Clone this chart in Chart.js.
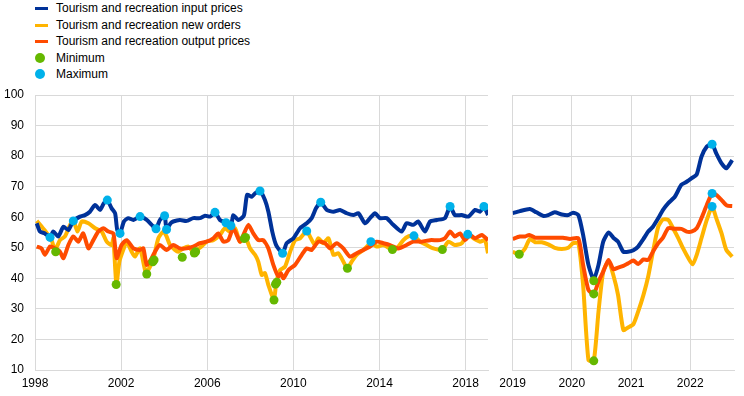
<!DOCTYPE html>
<html>
<head>
<meta charset="utf-8">
<script src="https://cdn.jsdelivr.net/npm/chart.js@4/dist/chart.umd.min.js"></script>
<style>
  body { margin: 0; background: #fff; }
  #wrap { position: relative; width: 744px; height: 396px; font-family: "Liberation Sans", Arial, sans-serif; }
  .box { position: absolute; top: 0; height: 396px; }
  #legend { position: absolute; left: 35px; top: 0; font-size: 12px; color: #000; }
  .item { position: relative; height: 16.5px; line-height: 16.5px; padding-left: 21px; white-space: nowrap; }
  .swatch { position: absolute; left: 0; top: 7px; width: 13px; height: 3px; }
  .dot { position: absolute; left: 0; top: 3px; width: 10px; height: 10px; border-radius: 50%; }
</style>
</head>
<body>
<div id="wrap">
  <div id="legend">
    <div class="item"><span class="swatch" style="background:#003299"></span>Tourism and recreation input prices</div>
    <div class="item"><span class="swatch" style="background:#ffb400"></span>Tourism and recreation new orders</div>
    <div class="item"><span class="swatch" style="background:#ff4b00"></span>Tourism and recreation output prices</div>
    <div class="item"><span class="dot" style="background:#65b800"></span>Minimum</div>
    <div class="item"><span class="dot" style="background:#00b1ea"></span>Maximum</div>
  </div>
  <div class="box" style="left:0;width:500px"><canvas id="leftChart"></canvas></div>
  <div class="box" style="left:490px;width:254px"><canvas id="rightChart"></canvas></div>
</div>
<script>
// tick labels
const leftTicks = [1998, 2002, 2006, 2010, 2014, 2018];
const rightTicks = [2019, 2020, 2021, 2022];

// 1998-2018 panel
const inputXA = [1998.08, 1998.23, 1998.46, 1998.70, 1998.85, 1999.08, 1999.32, 1999.55, 1999.78, 2000.09, 2000.32, 2000.55, 2000.79, 2001.02, 2001.2, 2001.36, 2001.56, 2001.72, 2001.82, 2001.95, 2002.13, 2002.33, 2002.57, 2002.88, 2003.19, 2003.42, 2003.62, 2003.80, 2004.02, 2004.11, 2004.3, 2004.42, 2004.73, 2005.04, 2005.35, 2005.66, 2005.9, 2006.13, 2006.36, 2006.59, 2006.87, 2007.1, 2007.21, 2007.44, 2007.7, 2007.85, 2008.07, 2008.22, 2008.45, 2008.68, 2008.84, 2009.02, 2009.2, 2009.5, 2009.69, 2010.0, 2010.31, 2010.62, 2010.85, 2011.05, 2011.27, 2011.55, 2011.86, 2012.17, 2012.48, 2012.79, 2013.02, 2013.33, 2013.56, 2013.79, 2014.02, 2014.33, 2014.64, 2015.03, 2015.26, 2015.57, 2015.8, 2016.11, 2016.35, 2016.66, 2017.04, 2017.28, 2017.5, 2017.82, 2018.13, 2018.44, 2018.67, 2018.85, 2019.04];
const inputA = [58.0, 55.3, 54.7, 53.4, 55.3, 53.7, 56.9, 55.8, 58.8, 60.2, 60.7, 61.8, 64.0, 62.4, 64.6, 65.6, 62.9, 61.3, 55.8, 54.7, 58.6, 59.7, 59.1, 60.2, 59.1, 57.5, 56.2, 59.1, 60.5, 56.0, 58.0, 58.6, 59.1, 58.8, 59.7, 59.7, 60.5, 60.2, 61.6, 59.1, 58.2, 57.2, 60.7, 59.1, 60.5, 67.3, 66.7, 67.8, 68.6, 65.6, 61.8, 55.3, 50.9, 48.2, 51.5, 53.1, 56.4, 58.0, 59.7, 62.9, 64.9, 62.4, 61.8, 62.4, 61.3, 60.7, 61.3, 58.0, 59.7, 61.3, 59.7, 59.7, 57.5, 55.3, 58.0, 57.5, 58.6, 55.3, 58.6, 59.1, 59.7, 63.5, 60.7, 60.7, 60.2, 62.4, 61.8, 63.5, 60.7];

const ordersXA = [1998.08, 1998.3, 1998.5, 1998.77, 1998.93, 1999.16, 1999.39, 1999.63, 1999.78, 1999.97, 2000.17, 2000.48, 2000.79, 2001.1, 2001.33, 2001.56, 2001.64, 2001.78, 2001.92, 2002.1, 2002.26, 2002.49, 2002.64, 2002.88, 2003.15, 2003.34, 2003.5, 2003.73, 2003.96, 2004.11, 2004.27, 2004.5, 2004.65, 2004.89, 2005.12, 2005.35, 2005.66, 2005.97, 2006.28, 2006.59, 2006.82, 2007.05, 2007.29, 2007.52, 2007.75, 2007.99, 2008.22, 2008.37, 2008.53, 2008.68, 2008.84, 2009.1, 2009.2, 2009.38, 2009.61, 2009.85, 2010.08, 2010.31, 2010.62, 2010.77, 2011.0, 2011.16, 2011.39, 2011.63, 2011.86, 2012.09, 2012.24, 2012.51, 2012.71, 2012.94, 2013.25, 2013.48, 2013.6, 2013.87, 2014.18, 2014.6, 2014.8, 2015.11, 2015.34, 2015.6, 2015.88, 2016.19, 2016.5, 2016.92, 2017.2, 2017.5, 2017.82, 2018.1, 2018.36, 2018.67, 2018.9, 2019.04];
const ordersA = [58.8, 57.0, 55.3, 52.5, 49.3, 52.5, 53.7, 57.5, 59.1, 55.3, 58.6, 58.0, 56.4, 55.3, 52.0, 50.9, 53.1, 38.0, 45.5, 49.3, 52.0, 48.7, 47.1, 49.8, 41.8, 43.8, 46.5, 53.1, 55.3, 53.7, 50.9, 49.3, 48.7, 49.8, 50.4, 48.7, 50.0, 52.0, 52.5, 54.2, 56.4, 55.3, 56.4, 52.0, 53.7, 49.8, 47.7, 45.5, 41.1, 41.7, 37.8, 33.0, 38.4, 42.7, 43.8, 48.7, 52.5, 53.1, 55.5, 53.7, 50.9, 53.1, 51.5, 53.1, 47.7, 48.2, 46.6, 43.3, 45.5, 47.7, 49.3, 50.9, 52.0, 50.4, 50.9, 49.4, 49.8, 52.5, 53.7, 53.9, 52.0, 50.9, 49.8, 49.4, 52.0, 50.9, 51.5, 54.4, 53.1, 52.0, 52.5, 48.2];

const outputXA = [1998.08, 1998.3, 1998.46, 1998.7, 1998.93, 1999.16, 1999.32, 1999.55, 1999.78, 2000.01, 2000.24, 2000.48, 2000.71, 2000.94, 2001.17, 2001.41, 2001.64, 2001.79, 2002.02, 2002.26, 2002.57, 2002.88, 2003.03, 2003.19, 2003.42, 2003.57, 2003.8, 2004.11, 2004.42, 2004.73, 2005.04, 2005.35, 2005.66, 2005.97, 2006.28, 2006.51, 2006.75, 2006.98, 2007.21, 2007.52, 2007.68, 2007.91, 2008.14, 2008.37, 2008.6, 2008.84, 2009.07, 2009.3, 2009.42, 2009.54, 2009.77, 2010.08, 2010.39, 2010.62, 2010.85, 2011.16, 2011.47, 2011.7, 2012.01, 2012.32, 2012.63, 2012.94, 2013.25, 2013.56, 2013.87, 2014.18, 2014.49, 2014.88, 2015.26, 2015.57, 2015.96, 2016.35, 2016.81, 2017.04, 2017.28, 2017.5, 2017.74, 2017.97, 2018.2, 2018.44, 2018.75, 2019.04];
const outputA = [50.4, 49.8, 47.7, 50.4, 49.8, 48.7, 46.6, 50.9, 53.7, 52.0, 54.7, 49.8, 52.5, 55.3, 56.4, 55.3, 54.7, 46.6, 50.9, 52.5, 49.8, 49.3, 49.8, 44.4, 46.6, 48.7, 50.9, 49.3, 50.9, 49.8, 49.8, 50.4, 51.5, 52.0, 53.1, 54.7, 52.0, 52.5, 56.4, 52.0, 54.2, 57.5, 54.7, 52.5, 52.5, 49.8, 44.4, 40.6, 41.7, 40.0, 42.7, 44.4, 47.7, 49.8, 49.3, 52.0, 51.5, 49.8, 51.5, 49.8, 47.1, 48.2, 49.3, 50.4, 52.0, 51.5, 50.9, 49.8, 50.9, 52.0, 52.0, 52.5, 52.5, 53.1, 55.3, 53.7, 54.7, 52.5, 54.2, 53.1, 54.2, 52.5];

const minXA = [1998.96, 2001.77, 2003.19, 2003.47, 2003.53, 2004.84, 2005.4, 2005.46, 2007.72, 2007.78, 2009.1, 2009.17, 2009.23, 2012.51, 2014.6, 2016.92];
const minYA = [48.7, 38.0, 41.4, 45.4, 46.0, 46.9, 48.3, 48.7, 53.0, 53.4, 32.9, 38.1, 38.7, 43.3, 49.4, 49.4];
const maxXA = [1998.70, 1999.78, 2001.36, 2001.95, 2002.88, 2003.62, 2004.02, 2004.11, 2006.36, 2006.87, 2007.1, 2008.45, 2009.5, 2010.62, 2011.27, 2013.6, 2015.6, 2017.28, 2018.1, 2018.85];
const maxYA = [53.4, 58.8, 65.6, 54.7, 60.2, 56.2, 60.5, 56.0, 61.6, 58.2, 57.2, 68.6, 48.2, 55.5, 64.9, 52.0, 53.9, 63.5, 54.4, 63.5];

// 2019-2022 panel
const inputXB = [2019.0, 2019.12, 2019.29, 2019.4, 2019.52, 2019.6, 2019.71, 2019.83, 2019.94, 2020.02, 2020.11, 2020.19, 2020.28, 2020.37, 2020.45, 2020.53, 2020.62, 2020.7, 2020.78, 2020.87, 2020.95, 2021.04, 2021.12, 2021.21, 2021.29, 2021.37, 2021.46, 2021.54, 2021.63, 2021.74, 2021.85, 2021.94, 2022.02, 2022.11, 2022.19, 2022.28, 2022.37, 2022.44, 2022.53, 2022.61, 2022.71];
const inputB = [61.3, 62.0, 62.7, 61.6, 60.4, 60.7, 61.6, 60.9, 60.7, 61.5, 60.7, 54.2, 44.4, 39.6, 44.4, 52.0, 55.0, 53.3, 52.0, 48.7, 48.7, 49.2, 50.4, 52.9, 55.3, 56.9, 59.7, 62.4, 64.6, 66.7, 70.6, 71.6, 72.7, 74.0, 79.8, 83.1, 83.9, 80.9, 77.6, 76.0, 78.7];

const ordersXB = [2019.0, 2019.11, 2019.21, 2019.29, 2019.38, 2019.49, 2019.6, 2019.71, 2019.83, 2019.94, 2020.02, 2020.11, 2020.19, 2020.28, 2020.37, 2020.45, 2020.53, 2020.62, 2020.7, 2020.78, 2020.87, 2020.95, 2021.04, 2021.12, 2021.21, 2021.29, 2021.37, 2021.46, 2021.54, 2021.63, 2021.71, 2021.8, 2021.88, 2021.97, 2022.04, 2022.11, 2022.19, 2022.28, 2022.37, 2022.44, 2022.53, 2022.61, 2022.71];
const ordersB = [48.7, 47.9, 49.8, 52.9, 51.8, 51.8, 51.1, 50.0, 49.6, 50.0, 51.5, 51.5, 37.8, 13.3, 13.0, 29.1, 42.2, 45.5, 41.1, 34.6, 23.1, 23.9, 25.0, 29.1, 34.6, 40.6, 48.7, 56.9, 59.3, 59.1, 56.4, 53.1, 49.8, 46.6, 44.6, 47.7, 53.1, 59.1, 63.5, 59.7, 54.7, 49.3, 47.1];

const outputXB = [2019.0, 2019.12, 2019.21, 2019.28, 2019.38, 2019.52, 2019.74, 2019.85, 2019.97, 2020.11, 2020.19, 2020.28, 2020.37, 2020.45, 2020.53, 2020.62, 2020.7, 2020.78, 2020.87, 2020.95, 2021.04, 2021.12, 2021.21, 2021.29, 2021.37, 2021.46, 2021.54, 2021.63, 2021.74, 2021.85, 2021.94, 2022.02, 2022.11, 2022.19, 2022.28, 2022.37, 2022.44, 2022.53, 2022.62, 2022.71];
const outputB = [52.9, 53.7, 53.7, 54.2, 53.3, 53.3, 53.3, 53.3, 52.9, 53.1, 44.4, 36.2, 34.9, 38.9, 42.2, 46.0, 43.0, 43.5, 44.1, 44.9, 45.8, 44.7, 46.2, 46.0, 48.7, 51.5, 53.3, 56.4, 56.2, 56.2, 55.3, 55.3, 56.4, 59.7, 64.0, 67.8, 67.3, 65.6, 63.8, 63.7];

const minXB = [2019.11, 2020.37, 2020.37, 2020.37];
const minYB = [47.9, 39.2, 34.9, 13.0];
const maxXB = [2022.37, 2022.37, 2022.37];
const maxYB = [83.9, 67.8, 63.5];

const BLUE = "#003299", YELLOW = "#ffb400", ORANGE = "#ff4b00", GREEN = "#65b800", CYAN = "#00b1ea";
const GRID = "#d9d9d9";

Chart.defaults.font.family = '"Liberation Sans", Arial, sans-serif';
Chart.defaults.font.size = 12;
Chart.defaults.color = "#000";

const pts = (xs, ys) => xs.map((x, i) => ({ x: x, y: ys[i] }));

const lineSet = (xs, ys, color, order) => ({
  data: pts(xs, ys),
  borderColor: color,
  borderWidth: 4,
  pointRadius: 0,
  tension: 0.2,
  fill: false,
  order: order,
});

const dotSet = (xs, ys, color) => ({
  data: pts(xs, ys),
  showLine: false,
  pointRadius: 4.5,
  pointBackgroundColor: color,
  pointBorderWidth: 0,
  order: 0,
});

const makeChart = (id, sets, xMin, xMax, xTicks, showY, yWidth, padRight) => {
  new Chart(document.getElementById(id), {
    type: "line",
    data: {
      datasets: [
        dotSet(sets.maxX, sets.maxY, CYAN),
        dotSet(sets.minX, sets.minY, GREEN),
        lineSet(sets.outX, sets.out, ORANGE, 1),
        lineSet(sets.inX, sets.inp, BLUE, 2),
        lineSet(sets.ordX, sets.ord, YELLOW, 3),
      ],
    },
    options: {
      responsive: true,
      maintainAspectRatio: false,
      animation: false,
      layout: { padding: { top: 95, right: padRight, left: 0, bottom: 0 } },
      plugins: { legend: { display: false }, tooltip: { enabled: false } },
      scales: {
        x: {
          type: "linear",
          min: xMin,
          max: xMax,
          afterBuildTicks: (scale) => {
            scale.ticks = xTicks.map((v) => ({ value: v }));
          },
          afterFit: (scale) => {
            scale.height = 26;
          },
          grid: { color: GRID, drawTicks: false },
          border: { color: GRID },
          ticks: {
            padding: 6,
            autoSkip: false,
            maxRotation: 0,
            callback: (v) => String(v),
          },
        },
        y: {
          min: 10,
          max: 100,
          afterFit: (scale) => {
            scale.width = yWidth;
          },
          grid: { color: GRID, drawTicks: false },
          border: { color: GRID },
          ticks: { stepSize: 10, padding: 11, display: showY },
        },
      },
    },
  });
};

makeChart("leftChart", {
  inX: inputXA, inp: inputA, ordX: ordersXA, ord: ordersA, outX: outputXA, out: outputA,
  minX: minXA, minY: minYA, maxX: maxXA, maxY: maxYA,
}, 1998, 2019.04, leftTicks, true, 35, 12);

makeChart("rightChart", {
  inX: inputXB, inp: inputB, ordX: ordersXB, ord: ordersB, outX: outputXB, out: outputB,
  minX: minXB, minY: minYB, maxX: maxXB, maxY: maxYB,
}, 2019, 2022.74, rightTicks, false, 22.7, 10);
</script>
</body>
</html>
